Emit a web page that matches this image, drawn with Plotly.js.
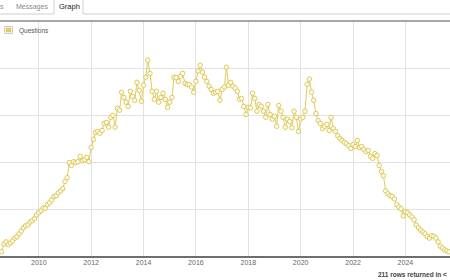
<!DOCTYPE html>
<html>
<head>
<meta charset="utf-8">
<script src="https://cdn.plot.ly/plotly-3.0.1.min.js"></script>
<style>html,body{margin:0;padding:0;background:#fff;}#chart{width:450px;height:280px;}</style>
</head>
<body>
<div id="chart"></div>
<script>
// Monthly question counts, starting August 2008
const startMonth = [2008, 8];
const questions = [
  110, 280, 320, 260, 300, 340, 400, 430, 490, 550, 620, 660,
  680, 740, 770, 810, 890, 940, 980, 1040, 1030, 1110, 1150, 1210,
  1280, 1300, 1360, 1400, 1450, 1600, 1680, 2000, 1940, 2020, 2000, 2020,
  2130, 2040, 2060, 2110, 2020, 2320, 2490, 2640, 2660, 2620, 2680, 2830,
  2850, 2750, 2960, 3000, 2750, 3150, 3110, 3490, 3380, 3280, 3190, 3510,
  3400, 3320, 3700, 3530, 3300, 3640, 3810, 4170, 3890, 3510, 3340, 3510,
  3280, 3380, 3470, 3340, 3170, 3280, 3380, 3810, 3800, 3720, 3830, 3890,
  3680, 3660, 3650, 3600, 3490, 3720, 3940, 4060, 3920, 3810, 3720, 3620,
  3550, 3470, 3490, 3510, 3320, 3550, 3600, 4020, 3640, 3700, 3620, 3580,
  3510, 3340, 3360, 3190, 3020, 3170, 3160, 3470, 3360, 3090, 3230, 3190,
  3090, 2960, 3230, 3020, 2920, 2980, 2770, 3210, 3090, 2960, 2750, 2920,
  2870, 2740, 3090, 2960, 2660, 2920, 2960, 3090, 3660, 3770, 3490, 3320,
  3040, 2890, 2830, 2720, 2770, 2810, 2680, 2960, 2720, 2660, 2570, 2510,
  2470, 2430, 2400, 2360, 2300, 2380, 2340, 2470, 2320, 2340, 2280, 2230,
  2260, 2130, 2090, 2190, 2150, 1940, 1810, 1720, 1400, 1340, 1300, 1280,
  1230, 1110, 1060, 1020, 870, 960, 940, 890, 850, 790, 680, 620,
  570, 530, 490, 430, 400, 450, 440, 400, 320, 230, 190, 150,
  130, 110
];
const seriesName = "Questions";
const tabLabels = ["s", "Messages", "Graph"];
const footerText = "211 rows returned in <";

const months = [];
for (let i = 0; i < questions.length; i++) {
  const m0 = startMonth[1] - 1 + i;
  const y = startMonth[0] + Math.floor(m0 / 12);
  const m = (m0 % 12) + 1;
  months.push(y + "-" + String(m).padStart(2, "0") + "-01");
}

const W = 450, H = 280, T = 21, B = 23;
const ph = H - T - B;
const py = p => (H - B - p) / ph;   // pixel row -> paper y
const px = p => p / W;              // pixel col -> paper x

const lineColor = "#dfcb5e";

const trace = {
  type: "scatter",
  mode: "lines+markers",
  x: months,
  y: questions,
  name: seriesName,
  line: {color: lineColor, width: 1},
  marker: {symbol: "circle", size: 4.5, color: "#fffcea", line: {color: "#d9c350", width: 0.9}},
  hoverinfo: "x+y",
  showlegend: false
};

const font = "Arial, 'Liberation Sans', sans-serif";

const layout = {
  width: W, height: H,
  margin: {l: 0, r: 0, t: T, b: B, pad: 0},
  paper_bgcolor: "#ffffff",
  plot_bgcolor: "#ffffff",
  showlegend: false,
  font: {family: font},
  xaxis: {
    type: "date",
    range: ["2008-07-09", "2025-09-14"],
    tick0: "2010-01-01",
    dtick: "M24",
    tickformat: "%Y",
    showgrid: true,
    gridcolor: "#e2e2e2",
    gridwidth: 1,
    ticks: "",
    ticklen: 0,
    tickfont: {size: 7, color: "#666666", family: font},
    zeroline: false,
    showline: false,
    fixedrange: true
  },
  yaxis: {
    range: [0, 5000],
    dtick: 1000,
    tick0: 0,
    showgrid: true,
    gridcolor: "#e2e2e2",
    gridwidth: 1,
    showticklabels: false,
    ticks: "",
    zeroline: false,
    showline: false,
    fixedrange: true
  },
  shapes: [
    {type: "line", xref: "paper", yref: "paper", x0: 0, x1: 1, y0: 1, y1: 1, line: {color: "#8a8a8a", width: 1.5}},
    {type: "line", xref: "paper", yref: "paper", x0: 0, x1: 1, y0: 0, y1: 0, line: {color: "#6e6e6e", width: 2}},
    {type: "line", xref: "paper", yref: "paper", x0: 0, x1: px(54), y0: py(14), y1: py(14), line: {color: "#cfcfcf", width: 1}},
    {type: "line", xref: "paper", yref: "paper", x0: px(83), x1: 1, y0: py(14), y1: py(14), line: {color: "#cfcfcf", width: 1}},
    {type: "line", xref: "paper", yref: "paper", x0: px(54), x1: px(54), y0: py(0), y1: py(14), line: {color: "#cfcfcf", width: 1}},
    {type: "line", xref: "paper", yref: "paper", x0: px(83), x1: px(83), y0: py(0), y1: py(14), line: {color: "#cfcfcf", width: 1}},
    {type: "rect", xref: "paper", yref: "paper", x0: px(4.5), x1: px(12.5), y0: py(33.5), y1: py(26.5), fillcolor: "#ffffff", line: {color: "#cccccc", width: 1}},
    {type: "rect", xref: "paper", yref: "paper", x0: px(6), x1: px(11), y0: py(32), y1: py(28), fillcolor: "#e6cf63", line: {color: "#d8bd45", width: 0.5}}
  ],
  annotations: [
    {xref: "paper", yref: "paper", x: px(-2), y: py(7), text: tabLabels[0], showarrow: false, xanchor: "left", yanchor: "middle", font: {size: 7, color: "#8a8a8a", family: font}},
    {xref: "paper", yref: "paper", x: px(31.5), y: py(7), text: tabLabels[1], showarrow: false, xanchor: "center", yanchor: "middle", font: {size: 7, color: "#8a8a8a", family: font}},
    {xref: "paper", yref: "paper", x: px(69), y: py(6.5), text: tabLabels[2], showarrow: false, xanchor: "center", yanchor: "middle", font: {size: 7.5, color: "#222222", family: font}},
    {xref: "paper", yref: "paper", x: px(17), y: py(31), text: seriesName, showarrow: false, xanchor: "left", yanchor: "middle", font: {size: 6.5, color: "#555555", family: font}},
    {xref: "paper", yref: "paper", x: px(449), y: py(274), text: "<b>" + footerText + "</b>", showarrow: false, xanchor: "right", yanchor: "middle", font: {size: 6.5, color: "#444444", family: font}}
  ]
};

Plotly.newPlot("chart", [trace], layout, {displayModeBar: false, staticPlot: true});
</script>
</body>
</html>
